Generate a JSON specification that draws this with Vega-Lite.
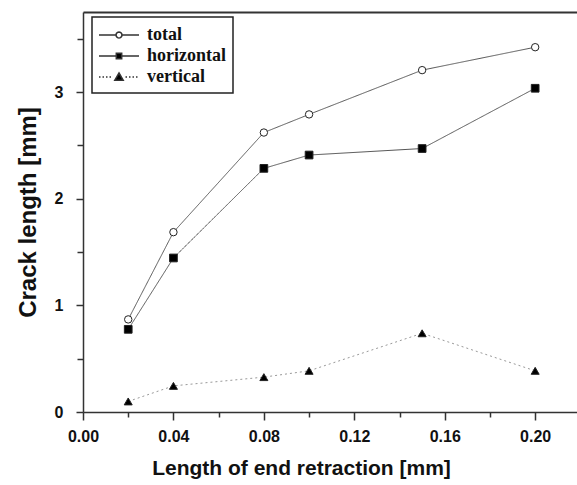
{
  "$schema": "https://vega.github.io/schema/vega-lite/v6.json",
  "autosize": "none",
  "width": 494,
  "height": 400,
  "padding": {"left": 83, "top": 12, "right": 0, "bottom": 73},
  "background": "white",
  "config": {
    "view": {"stroke": null},
    "legend": {"strokeWidth": 1.5, "strokeColor": "#222"},
    "axis": {
      "grid": false,
      "domainColor": "#333",
      "domainWidth": 1.5,
      "tickColor": "#333",
      "tickWidth": 1.5,
      "labelFont": "Liberation Sans",
      "labelFontWeight": "bold",
      "labelFontSize": 16,
      "labelColor": "#111",
      "titleFont": "Liberation Sans",
      "titleFontWeight": "bold",
      "titleColor": "#111"
    }
  },
  "data": {
    "values": [
      {"x": 0.02, "y": 0.868, "series": "total"},
      {"x": 0.04, "y": 1.686, "series": "total"},
      {"x": 0.08, "y": 2.62, "series": "total"},
      {"x": 0.10, "y": 2.79, "series": "total"},
      {"x": 0.15, "y": 3.205, "series": "total"},
      {"x": 0.20, "y": 3.42, "series": "total"},
      {"x": 0.02, "y": 0.775, "series": "horizontal"},
      {"x": 0.04, "y": 1.444, "series": "horizontal"},
      {"x": 0.08, "y": 2.284, "series": "horizontal"},
      {"x": 0.10, "y": 2.409, "series": "horizontal"},
      {"x": 0.15, "y": 2.47, "series": "horizontal"},
      {"x": 0.20, "y": 3.035, "series": "horizontal"},
      {"x": 0.02, "y": 0.099, "series": "vertical"},
      {"x": 0.04, "y": 0.245, "series": "vertical"},
      {"x": 0.08, "y": 0.327, "series": "vertical"},
      {"x": 0.10, "y": 0.386, "series": "vertical"},
      {"x": 0.15, "y": 0.738, "series": "vertical"},
      {"x": 0.20, "y": 0.386, "series": "vertical"}
    ]
  },
  "layer": [
    {
      "mark": {"type": "line", "strokeWidth": 1},
      "encoding": {
        "x": {
          "field": "x", "type": "quantitative",
          "scale": {"domain": [0, 0.2185], "nice": false, "zero": false},
          "axis": {
            "title": "Length of end retraction [mm]",
            "titleFontSize": 21,
            "titlePadding": 13,
            "titleX": 218,
            "values": [0, 0.02, 0.04, 0.06, 0.08, 0.10, 0.12, 0.14, 0.16, 0.18, 0.20],
            "labelExpr": "round(datum.value*100) % 4 == 0 ? format(datum.value, '.2f') : ''",
            "tickSize": {"condition": {"test": "round(datum.value*100) % 4 == 0", "value": 8}, "value": 5},
            "labelPadding": 8,
            "labelFlush": false
          }
        },
        "y": {
          "field": "y", "type": "quantitative",
          "scale": {"domain": [0, 3.75], "nice": false},
          "axis": {
            "title": "Crack length [mm]",
            "titleFontSize": 24,
            "titlePadding": 14,
            "values": [0, 0.5, 1, 1.5, 2, 2.5, 3, 3.5],
            "labelExpr": "datum.value % 1 == 0 ? format(datum.value, 'd') : ''",
            "tickSize": {"condition": {"test": "datum.value % 1 == 0", "value": 7}, "value": 6},
            "labelPadding": 13,
            "labelFlush": false
          }
        },
        "detail": {"field": "series"},
        "stroke": {
          "field": "series", "type": "nominal",
          "scale": {"domain": ["total", "horizontal", "vertical"], "range": ["#555", "#555", "#999"]},
          "legend": null
        },
        "strokeDash": {
          "field": "series", "type": "nominal",
          "scale": {"domain": ["total", "horizontal", "vertical"], "range": [[1, 0], [1, 0], [2, 3]]},
          "legend": null
        }
      }
    },
    {
      "mark": {"type": "point", "filled": true, "opacity": 1, "stroke": "#222", "strokeWidth": 1},
      "encoding": {
        "x": {"field": "x", "type": "quantitative", "axis": null},
        "y": {"field": "y", "type": "quantitative", "axis": null},
        "shape": {
          "field": "series", "type": "nominal",
          "scale": {"domain": ["total", "horizontal", "vertical"], "range": ["circle", "square", "triangle-up"]},
          "legend": null
        },
        "fill": {
          "field": "series", "type": "nominal",
          "scale": {"domain": ["total", "horizontal", "vertical"], "range": ["white", "black", "black"]},
          "legend": null
        },
        "size": {
          "field": "series", "type": "nominal",
          "scale": {"domain": ["total", "horizontal", "vertical"], "range": [55, 64, 85]},
          "legend": null
        }
      }
    },
    {
      "transform": [{"filter": "datum.x < 0"}],
      "mark": {"type": "point", "filled": true, "opacity": 1, "stroke": "#333", "strokeWidth": 1},
      "encoding": {
        "x": {
          "field": "x", "type": "quantitative",
          "axis": {"orient": "top", "title": null, "labels": false, "ticks": false, "domain": true, "domainWidth": 2}
        },
        "y": {"field": "y", "type": "quantitative", "axis": null},
        "shape": {
          "field": "series", "type": "nominal",
          "scale": {
            "domain": ["total", "horizontal", "vertical"],
            "range": [
              "M-2,0H-0.32M0.32,0H2M0.3,0L0.26,0.15L0.15,0.26L0,0.3L-0.15,0.26L-0.26,0.15L-0.3,0L-0.26,-0.15L-0.15,-0.26L0,-0.3L0.15,-0.26L0.26,-0.15Z",
              "M-2,0H-0.3M0.3,0H2M-0.27,-0.27H0.27V0.27H-0.27Z",
              "M-2,0h0.15M-1.65,0h0.15M-1.3,0h0.15M-0.95,0h0.15M0.65,0h0.15M1,0h0.15M1.35,0h0.15M1.7,0h0.15M0,-0.4L0.42,0.32L-0.42,0.32Z"
            ]
          },
          "legend": {
            "title": null,
            "orient": "none",
            "legendX": 9,
            "legendY": 5,
            "padding": 7,
            "symbolSize": 400,
            "symbolOffset": 9,
            "labelOffset": 17,
            "labelFont": "Liberation Serif",
            "labelFontWeight": "bold",
            "labelFontSize": 18,
            "labelColor": "#111",
            "rowPadding": 1,
            "encode": {"symbols": {"update": {"stroke": {"value": "#333"}, "strokeWidth": {"value": 1}, "opacity": {"value": 1}}}}
          }
        },
        "fill": {
          "field": "series", "type": "nominal",
          "scale": {"domain": ["total", "horizontal", "vertical"], "range": ["white", "black", "black"]},
          "legend": {
            "title": null,
            "orient": "none",
            "legendX": 9,
            "legendY": 5,
            "padding": 7,
            "symbolSize": 400,
            "symbolOffset": 9,
            "labelOffset": 17,
            "labelFont": "Liberation Serif",
            "labelFontWeight": "bold",
            "labelFontSize": 18,
            "labelColor": "#111",
            "rowPadding": 1,
            "encode": {"symbols": {"update": {"stroke": {"value": "#333"}, "strokeWidth": {"value": 1}, "opacity": {"value": 1}}}}
          }
        }
      }
    }
  ],
  "resolve": {
    "scale": {"shape": "independent", "fill": "independent", "size": "independent"},
    "axis": {"x": "independent", "y": "independent"}
  }
}
